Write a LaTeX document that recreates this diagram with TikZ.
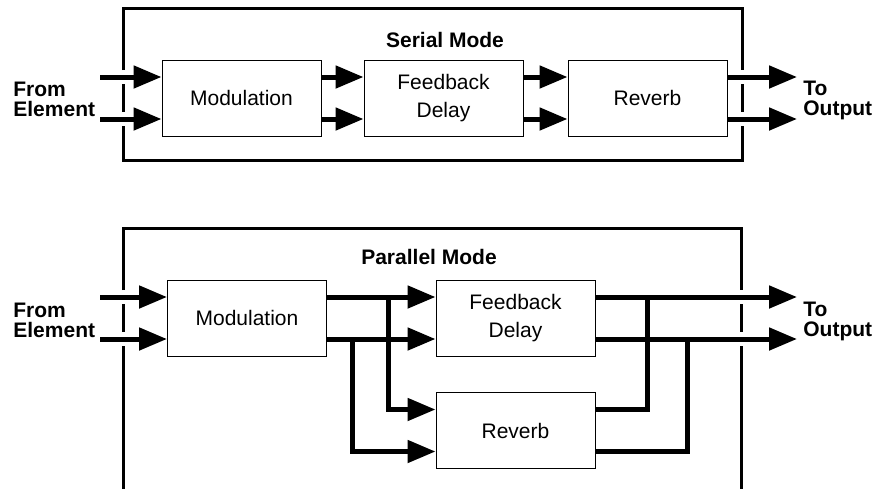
\documentclass[tikz,border=0pt]{standalone}
\usepackage{fontspec}
\setmainfont{Liberation Sans}
\usetikzlibrary{arrows.meta}

\begin{document}
\begin{tikzpicture}[x=0.5pt,y=-0.5pt,
 m/.style={draw,line width=0.5pt,minimum width=79.5pt,minimum height=38pt,inner sep=0pt,align=center,font=\fontsize{10.5}{14}\selectfont},
 lb/.style={font=\fontsize{10.5}{10}\selectfont\bfseries,align=left,anchor=west,inner sep=0pt},
 hd/.style={font=\fontsize{10.5}{12}\selectfont\bfseries},
 ar/.style={line width=2.5pt,-{Triangle[length=14pt,width=11pt]}},
 fr/.style={line width=1.5pt}]
\useasboundingbox (0,0) rectangle (878,489);
% serial mode
\draw[fr] (123,70) -- (123,8) -- (742,8) -- (742,70);
\draw[fr] (123,84) -- (123,112) (742,84) -- (742,112);
\draw[fr] (123,126) -- (123,160) -- (742,160) -- (742,126);
\node[hd] (st) at (445,40) {Serial Mode};
\node[m] (sm) at (241.5,98) {Modulation};
\node[m] (sd) at (443.5,98) {Feedback\\Delay};
\node[m] (sr) at (647.5,98) {Reverb};
\coordinate (si) at (100,98);
\coordinate (so) at (797,98);
\node[lb] (sf) at (13,99) {From\\Element};
\node[lb] (sto) at (803,100) {To\\Output};
\foreach \s in {10.5,-10.5} {
 \draw[ar] ([yshift=\s pt]si) -- ([yshift=\s pt]sm.west);
 \draw[ar] ([yshift=\s pt]sm.east) -- ([yshift=\s pt]sd.west);
 \draw[ar] ([yshift=\s pt]sd.east) -- ([yshift=\s pt]sr.west);
 \draw[ar] ([yshift=\s pt]sr.east) -- ([yshift=\s pt]so);
}
% parallel mode
\draw[fr] (123,290) -- (123,228) -- (741,228) -- (741,290);
\draw[fr] (123,304) -- (123,332) (741,304) -- (741,332);
\draw[fr] (123,346) -- (123,489) (741,346) -- (741,489);
\node[hd] (pt) at (429,257) {Parallel Mode};
\node[m] (pm) at (247,318) {Modulation};
\node[m] (pd) at (515.5,318) {Feedback\\Delay};
\node[m] (pr) at (515.5,430.5) {Reverb};
\coordinate (pi) at (100,318);
\coordinate (po) at (797,318);
\node[lb] (pf) at (13,320) {From\\Element};
\node[lb] (pto) at (803,321) {To\\Output};
\foreach \s in {10.5,-10.5} {
 \draw[ar] ([yshift=\s pt]pi) -- ([yshift=\s pt]pm.west);
 \draw[ar] ([yshift=\s pt]pm.east) -- ([yshift=\s pt]pd.west);
 \draw[ar] ([yshift=\s pt]pd.east) -- ([yshift=\s pt]po);
}
\draw[ar] ([yshift=10.5pt]pm.east) -- ++(61,0) |- ([yshift=10.5pt]pr.west);
\draw[ar] ([yshift=-10.5pt]pm.east) -- ++(25,0) |- ([yshift=-10.5pt]pr.west);
\draw[ar,-] ([yshift=10.5pt]pr.east) -| ([xshift=26pt,yshift=10.5pt]pd.east);
\draw[ar,-] ([yshift=-10.5pt]pr.east) -| ([xshift=46pt,yshift=-10.5pt]pd.east);
\end{tikzpicture}
\end{document}
